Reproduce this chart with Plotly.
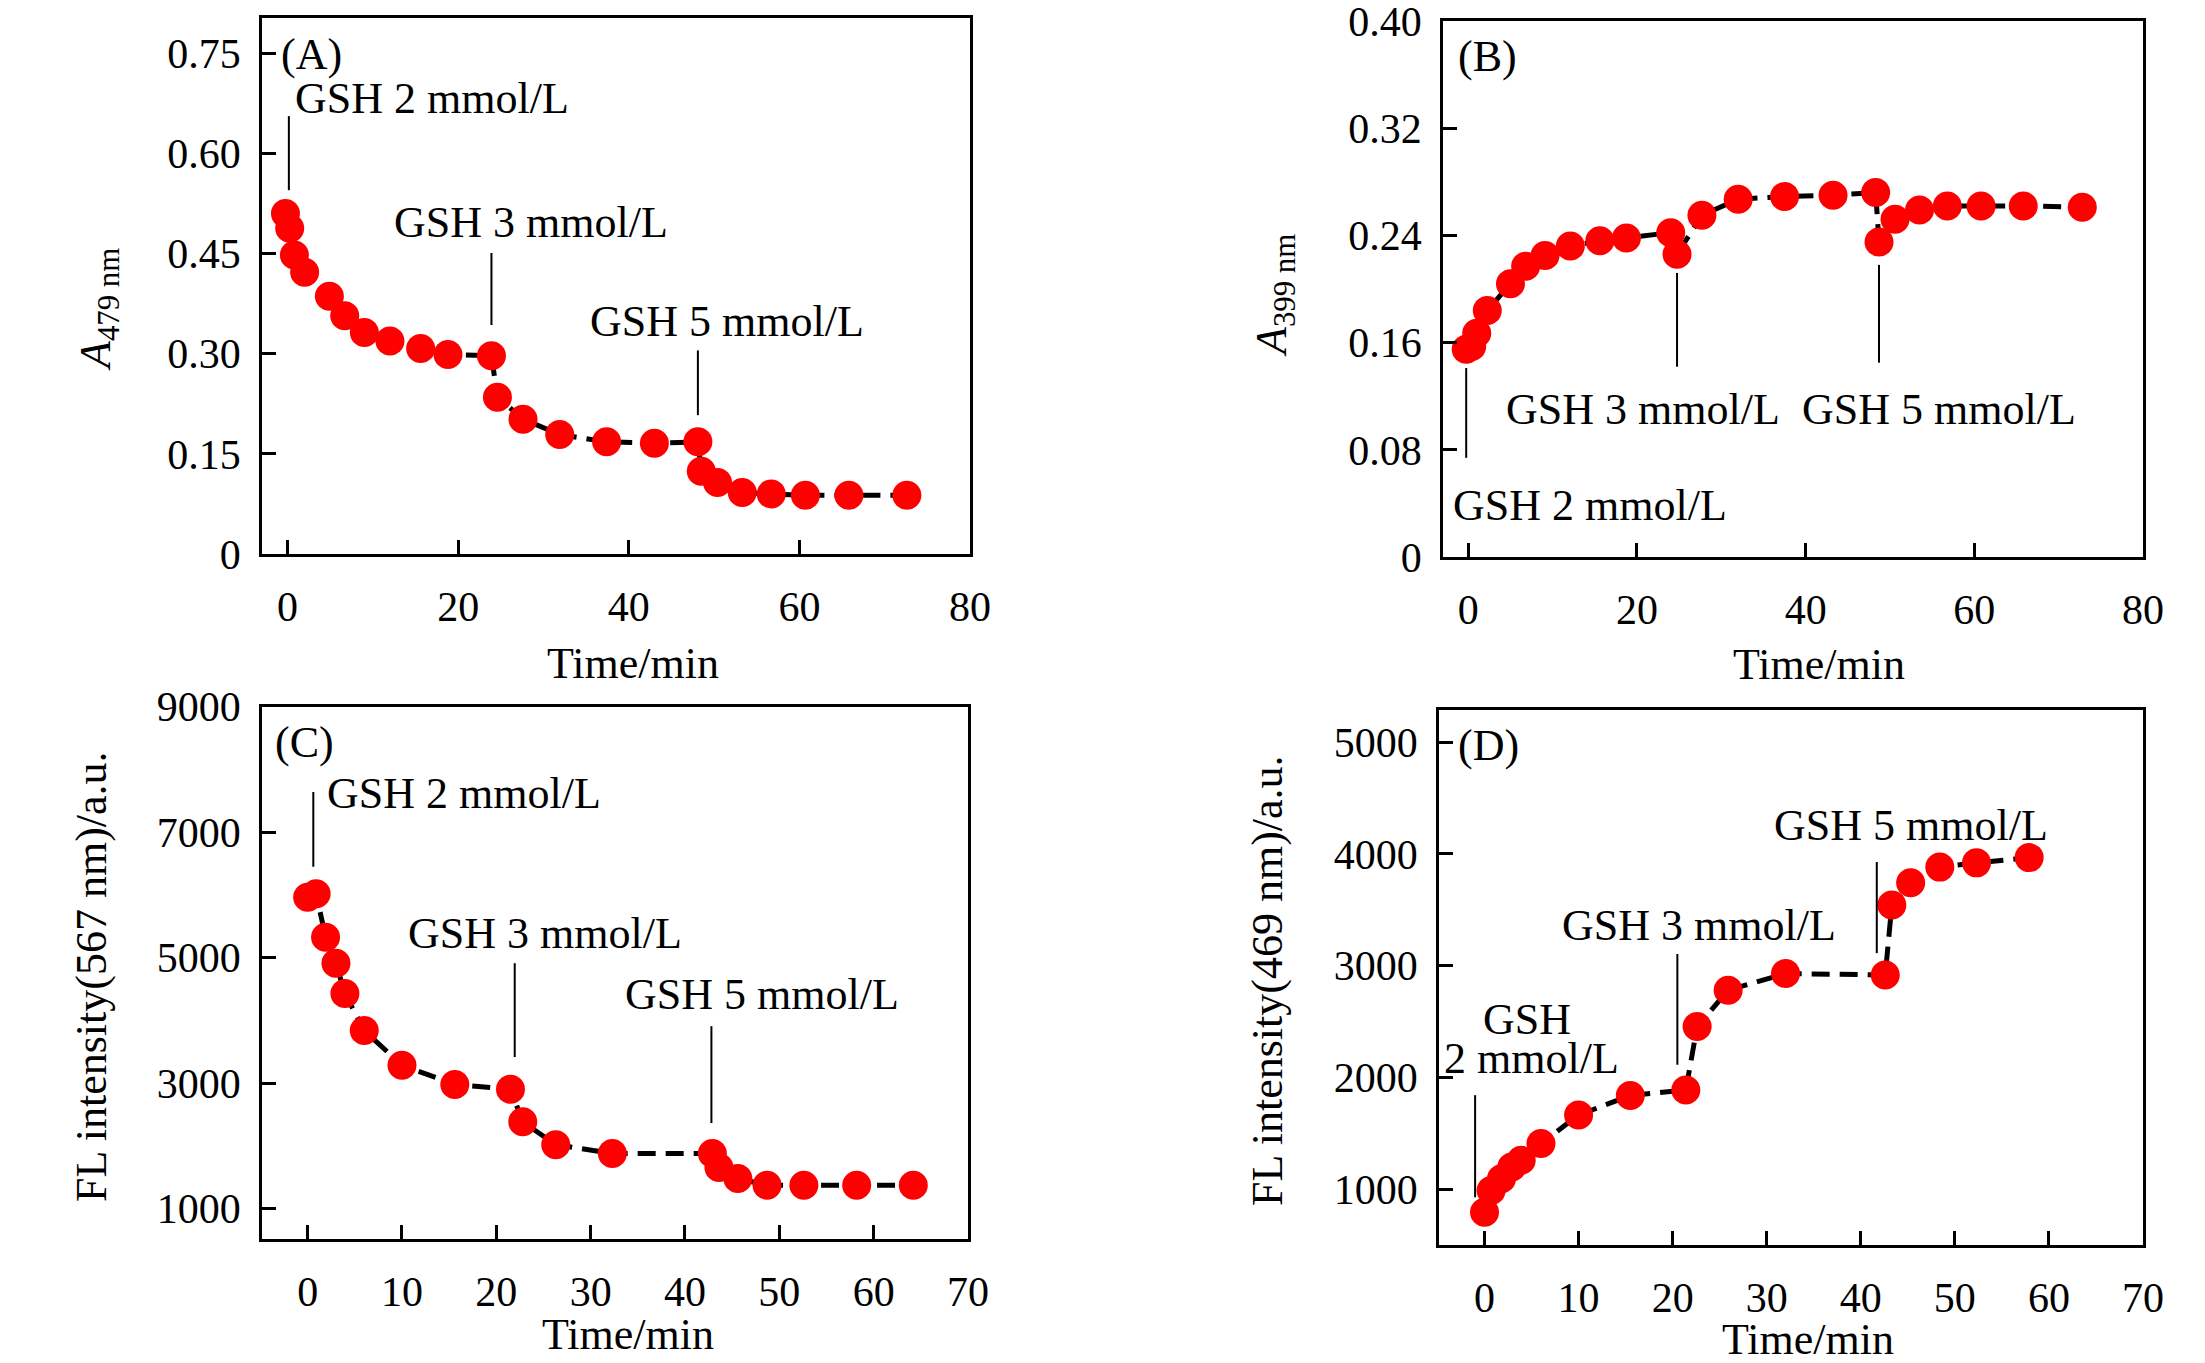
import plotly.graph_objects as go

# Panel A: absorbance at 479 nm
time_a = [-0.25, 0.25, 0.8, 2.0, 4.9, 6.7, 9.0, 12.0, 15.6, 18.8, 23.9, 24.6, 27.6, 31.9,
          37.4, 43.0, 48.1, 48.5, 50.4, 53.3, 56.7, 60.7, 65.8, 72.6]
abs_479 = [0.510, 0.488, 0.448, 0.422, 0.386, 0.357, 0.332, 0.319, 0.308, 0.299, 0.297, 0.235,
           0.202, 0.179, 0.168, 0.166, 0.168, 0.124, 0.107, 0.092, 0.090, 0.088, 0.088, 0.088]

# Panel B: absorbance at 399 nm
time_b = [-0.25, 0.4, 1.0, 2.25, 5.0, 6.8, 9.1, 12.1, 15.6, 18.75, 24.0, 24.75, 27.7, 32.0,
          37.5, 43.25, 48.3, 48.7, 50.6, 53.5, 56.8, 60.8, 65.8, 72.8]
abs_399 = [0.155, 0.157, 0.167, 0.184, 0.204, 0.217, 0.225, 0.232, 0.236, 0.238, 0.242, 0.226,
           0.255, 0.267, 0.269, 0.270, 0.272, 0.235, 0.252, 0.259, 0.262, 0.262, 0.262, 0.261]

# Panel C: fluorescence at 567 nm
time_c = [0.0, 0.9, 1.9, 3.0, 3.95, 6.0, 10.0, 15.6, 21.5, 22.8, 26.3, 32.3, 42.9, 43.6,
          45.6, 48.7, 52.6, 58.2, 64.2]
fl_567 = [5962, 6017, 5325, 4910, 4426, 3837, 3284, 2979, 2903, 2384, 2017, 1879, 1879, 1657,
          1478, 1374, 1374, 1374, 1374]

# Panel D: fluorescence at 469 nm
time_d = [0.0, 0.7, 1.8, 2.9, 3.9, 6.0, 10.0, 15.5, 21.4, 22.6, 25.9, 32.0, 42.6, 43.3,
          45.3, 48.4, 52.3, 57.9]
fl_469 = [795, 990, 1095, 1200, 1260, 1410, 1665, 1840, 1889, 2456, 2782, 2930, 2918, 3544,
          3742, 3882, 3920, 3967]

# GSH addition labels (text, x, y) and marker lines (x, y0, y1) per panel
labels_a = [("GSH 2 mmol/L", 16.95, 0.682), ("GSH 3 mmol/L", 28.5, 0.497),
            ("GSH 5 mmol/L", 51.5, 0.348)]
mark_a = [(0.15, 0.545, 0.656), (23.9, 0.343, 0.451), (48.1, 0.208, 0.305)]
labels_b = [("GSH 2 mmol/L", 14.4, 0.0388), ("GSH 3 mmol/L", 20.7, 0.110),
            ("GSH 5 mmol/L", 55.8, 0.110)]
mark_b = [(-0.25, 0.074, 0.141), (24.75, 0.142, 0.212), (48.7, 0.145, 0.218)]
labels_c = [("GSH 2 mmol/L", 16.6, 7609), ("GSH 3 mmol/L", 25.2, 5388),
            ("GSH 5 mmol/L", 48.2, 4405)]
mark_c = [(0.6, 6446, 7637), (21.95, 3415, 4910), (42.8, 2363, 3907)]
labels_d = [("GSH", 4.5, 2522), ("2 mmol/L", 5.0, 2173), ("GSH 3 mmol/L", 22.8, 3357),
            ("GSH 5 mmol/L", 45.3, 4250)]
mark_d = [(-1.0, 930, 1843), (20.5, 2115, 3105), (41.7, 3113, 3928)]

FONT = "Times New Roman, Liberation Serif, serif"
# page body has an 8px margin, so the figure is 16px smaller than the window
W, H = 2189, 1347

fig = go.Figure()

panels = [
    ("", time_a, abs_479, labels_a, mark_a, "(A)", (2.8, 0.749)),
    ("2", time_b, abs_399, labels_b, mark_b, "(B)", (2.25, 0.3735)),
    ("3", time_c, fl_567, labels_c, mark_c, "(C)", (-0.3, 8419)),
    ("4", time_d, fl_469, labels_d, mark_d, "(D)", (0.45, 4969)),
]

for ax, t, v, labels, marks, tag, tagpos in panels:
    fig.add_trace(go.Scatter(
        x=t, y=v, mode="lines+markers",
        line=dict(color="black", width=5, dash="18px,10px"),
        marker=dict(color="#ff0000", size=29, line=dict(width=0)),
        xaxis="x" + ax, yaxis="y" + ax, showlegend=False))
    for (mx, y0, y1) in marks:
        fig.add_shape(type="line", x0=mx, x1=mx, y0=y0, y1=y1,
                      xref="x" + ax, yref="y" + ax, line=dict(color="black", width=2))
    for (text, lx, ly) in labels:
        fig.add_annotation(x=lx, y=ly, text=text, xref="x" + ax, yref="y" + ax,
                           showarrow=False, font=dict(size=44), xanchor="center",
                           yanchor="middle")
    fig.add_annotation(x=tagpos[0], y=tagpos[1], text=tag, xref="x" + ax, yref="y" + ax,
                       showarrow=False, font=dict(size=44), xanchor="center",
                       yanchor="middle")

# axis titles
x_titles = [(0.28534, 0.51373), (0.82732, 0.51299), (0.28323, 0.01485), (0.82229, 0.01114)]
for (px, py) in x_titles:
    fig.add_annotation(x=px, y=py, xref="paper", yref="paper", text="Time/min",
                       showarrow=False, font=dict(size=44), xanchor="center",
                       yanchor="middle")
y_titles = [
    ("<i>A</i><sub>479 nm</sub>", 0.04111, 0.77654),
    ("<i>A</i><sub>399 nm</sub>", 0.57835, 0.78619),
    ("FL intensity(567 nm)/a.u.", 0.03792, 0.28062),
    ("FL intensity(469 nm)/a.u.", 0.57515, 0.27765),
]
for txt, px, py in y_titles:
    fig.add_annotation(x=px, y=py, xref="paper", yref="paper", text=txt, textangle=-90,
                       showarrow=False, font=dict(size=44), xanchor="center",
                       yanchor="middle")

common = dict(showline=True, mirror=True, linecolor="black", linewidth=2.5,
              ticks="inside", ticklen=14, tickwidth=2.5, tickcolor="black",
              showgrid=False, zeroline=False, automargin=False,
              ticklabeloverflow="allow",
              tickfont=dict(size=42, color="black"))

fig.update_layout(
    template="none",
    width=W, height=H,
    margin=dict(l=0, r=0, t=0, b=0, autoexpand=False),
    paper_bgcolor="white", plot_bgcolor="white",
    font=dict(family=FONT, color="black", size=42),
    xaxis=dict(domain=[0.11603, 0.43947], range=[-3, 80], tickvals=[0, 20, 40, 60, 80],
               anchor="y", ticklabelstandoff=14, **common),
    yaxis=dict(domain=[0.59465, 0.99258], range=[0, 0.803],
               tickvals=[0, 0.15, 0.30, 0.45, 0.60, 0.75],
               ticktext=["0", "0.15", "0.30", "0.45", "0.60", "0.75"],
               anchor="x", ticklabelstandoff=10, **common),
    xaxis2=dict(domain=[0.65555, 0.97533], range=[-3, 80], tickvals=[0, 20, 40, 60, 80],
                anchor="y2", ticklabelstandoff=14, **common),
    yaxis2=dict(domain=[0.59243, 0.99035], range=[0, 0.40],
                tickvals=[0, 0.08, 0.16, 0.24, 0.32, 0.40],
                ticktext=["0", "0.08", "0.16", "0.24", "0.32", "0.40"],
                anchor="x2", ticklabelstandoff=10, **common),
    xaxis3=dict(domain=[0.11603, 0.43856], range=[-4.84, 70],
                tickvals=[0, 10, 20, 30, 40, 50, 60, 70],
                anchor="y3", ticklabelstandoff=14, **common),
    yaxis3=dict(domain=[0.08612, 0.48144], range=[516, 9000],
                tickvals=[1000, 3000, 5000, 7000, 9000],
                anchor="x3", ticklabelstandoff=10, **common),
    xaxis4=dict(domain=[0.65372, 0.97533], range=[-4.84, 70],
                tickvals=[0, 10, 20, 30, 40, 50, 60, 70],
                anchor="y4", ticklabelstandoff=14, **common),
    yaxis4=dict(domain=[0.08166, 0.47884], range=[503, 5287],
                tickvals=[1000, 2000, 3000, 4000, 5000],
                anchor="x4", ticklabelstandoff=10, **common),
)

fig.write_html("out.html")
